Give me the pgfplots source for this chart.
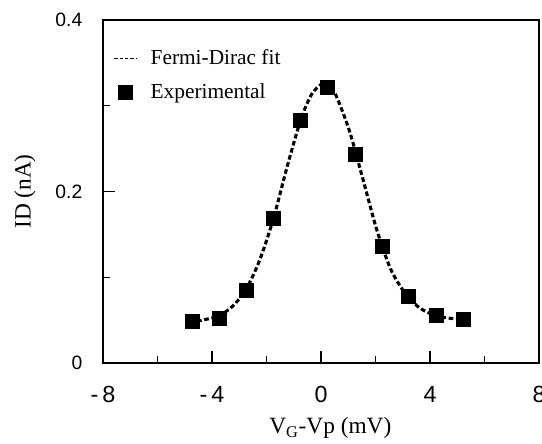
\documentclass[border=0pt]{standalone}
\usepackage{pgfplots}
\pgfplotsset{compat=1.18}
\usepackage{fontspec}
\setmainfont{Liberation Serif}
\newfontfamily\arialf{Liberation Sans}
\begin{document}
\begin{tikzpicture}
\path[use as bounding box] (-77.25pt,-60pt) rectangle (329.25pt,272.25pt);
\begin{axis}[
  scale only axis,
  width=327pt, height=257.25pt,
  at={(0,0)}, anchor=south west,
  xmin=-8, xmax=8, ymin=0, ymax=0.4,
  axis line style={line width=1pt},
  xtick={-8,-4,0,4,8},
  xticklabels={-\,8,-\,4,0,4,8},
  minor xtick={-6,-2,2,6},
  ytick={0,0.2,0.4},
  yticklabels={0,0.2,0.4},
  minor ytick={0.1,0.3},
  tick pos=left,
  tick align=inside,
  major tick length=9pt,
  minor tick length=5pt,
  every tick/.style={line width=1pt, black},
  /pgf/number format/assume math mode=true,
  xticklabel style={font=\arialf\fontsize{17.5}{18}\selectfont, yshift=-14pt},
  yticklabel style={font=\arialf\fontsize{14.5}{15}\selectfont, xshift=-12pt},
  xlabel={V\textsubscript{G}-Vp (mV)},
  ylabel={ID (nA)},
  label style={font=\fontsize{17.5}{18}\selectfont},
  xlabel style={yshift=-4pt, xshift=7pt},
  ylabel style={yshift=8pt},
  legend style={at={(rel axis cs:0.015,0.93)}, anchor=north west, draw=none, fill=none,
    font=\fontsize{16}{17}\selectfont, row sep=9pt, cells={anchor=west}},
  legend cell align=left,
]
\addlegendimage{black, line width=0.6pt, dash pattern=on 2.5pt off 1.5pt}
\addplot[black, line width=2.3pt, dash pattern=on 3.5pt off 2pt, smooth, tension=0.5, forget plot] coordinates {
(-4.55,0.049) (-4.2,0.051) (-3.75,0.055) (-3.25,0.066) (-2.75,0.086) (-2.25,0.120)
(-1.75,0.168) (-1.25,0.228) (-0.75,0.283) (-0.35,0.313) (0.05,0.326) (0.25,0.325)
(0.55,0.312) (1.05,0.270) (1.55,0.213) (2.05,0.155) (2.55,0.110) (3.05,0.083)
(3.55,0.066) (4.05,0.057) (4.55,0.053) (5.05,0.051)
};
\addplot[only marks, mark=square*, mark size=5.25pt, black] coordinates {
(-4.73,0.0482) (-3.75,0.0521) (-2.76,0.0851) (-1.74,0.1687) (-0.75,0.2826)
(0.23,0.3215) (1.25,0.2437) (2.23,0.1356) (3.22,0.0773) (4.24,0.056) (5.23,0.0513)
};
\legend{{\fontsize{16}{17}\selectfont\hspace{8pt}Fermi-Dirac fit},{\fontsize{16}{17}\selectfont\hspace{8pt}Experimental}}
\end{axis}
\end{tikzpicture}
\end{document}
